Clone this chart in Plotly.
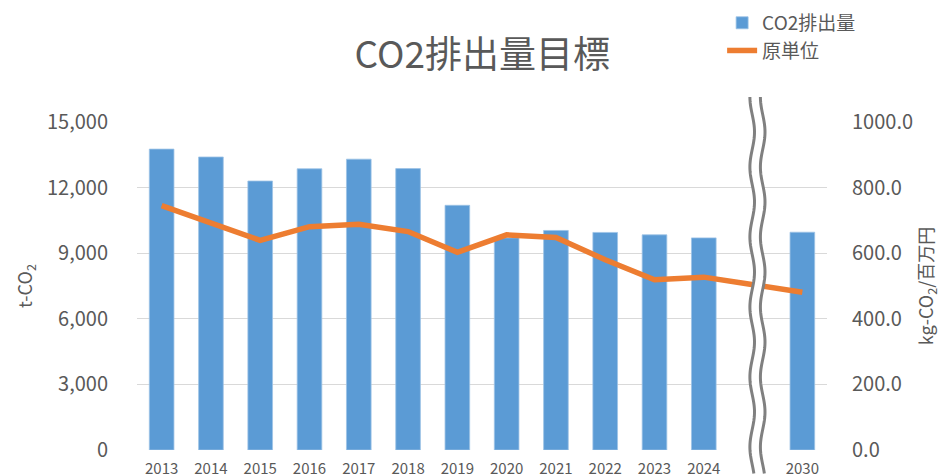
import numpy as np
import plotly.graph_objects as go

# ---- data ----
years = ["2013", "2014", "2015", "2016", "2017", "2018", "2019", "2020",
         "2021", "2022", "2023", "2024", " ", "2030"]
emissions = [13760, 13400, 12300, 12860, 13300, 12870, 11190, 9700,
             10040, 9950, 9840, 9700, None, 9960]
intensity = [745, 692, 639, 681, 688, 666, 603, 656,
             648, 580, 519, 527, None, 481]
left_ticks = [0, 3000, 6000, 9000, 12000, 15000]
right_ticks = [0, 200, 400, 600, 800, 1000]

FONT = "Noto Sans CJK JP"
GREY = "#595959"

fig = go.Figure()
fig.add_trace(go.Bar(x=years, y=emissions, name="CO2排出量",
                     marker=dict(color="#5B9BD5", line=dict(color="#9DC3E6", width=0.8)),
                     yaxis="y"))
fig.add_trace(go.Scatter(x=years, y=intensity, name="原単位", mode="lines",
                         line=dict(color="#ED7D31", width=5.5),
                         connectgaps=True, yaxis="y2"))

# ---- axis-break decoration (wavy double line) ----
L, R, T, B = 137, 115, 122, 26
W, H = 942 - L - R, 476 - T - B
def px2paper(px, py):
    return (px - L) / W, (T + H - py) / H
ys = np.arange(97, 474.1, 1.5)
xl = 752.2 + 2.3 * np.sin(2 * np.pi * (ys - 167) / 70 - np.pi / 2)
xr = xl + 10.5
def path_of(xs, yv):
    pts = [px2paper(a, b) for a, b in zip(xs, yv)]
    return "M" + "L".join(f"{a:.5f},{b:.5f}" for a, b in pts)
fill_path = path_of(np.concatenate([xl, xr[::-1]]), np.concatenate([ys, ys[::-1]])) + "Z"
shapes = [
    dict(type="path", xref="paper", yref="paper", path=fill_path,
         fillcolor="white", line=dict(width=0), layer="above"),
    dict(type="path", xref="paper", yref="paper", path=path_of(xl, ys),
         line=dict(color="#808080", width=3), layer="above"),
    dict(type="path", xref="paper", yref="paper", path=path_of(xr, ys),
         line=dict(color="#808080", width=3), layer="above"),
]

fig.update_layout(
    width=942, height=476,
    margin=dict(l=L, r=R, t=T, b=B, autoexpand=False),
    paper_bgcolor="white", plot_bgcolor="white",
    font=dict(family=FONT, color=GREY),
    title=dict(text="CO2排出量目標", x=0.512, xref="container", xanchor="center",
               y=1 - 55 / 476, yref="container", yanchor="middle",
               font=dict(size=37, color=GREY, family=FONT)),
    bargap=0.5,
    showlegend=True,
    legend=dict(x=0.848, y=1.36, xanchor="left", yanchor="top",
                font=dict(size=19, color=GREY), bgcolor="rgba(0,0,0,0)",
                tracegroupgap=2),
    xaxis=dict(type="category", showgrid=False, showline=False, zeroline=False,
               automargin=False,
               ticks="outside", ticklen=5, tickcolor="rgba(0,0,0,0)",
               tickfont=dict(size=15, color=GREY)),
    yaxis=dict(range=[0, 15000], tickvals=left_ticks, tickformat=",",
               automargin=False,
               showgrid=True, gridcolor="#D9D9D9", gridwidth=1.3,
               zeroline=False, showline=False,
               ticks="outside", ticklen=24, tickcolor="rgba(0,0,0,0)",
               tickfont=dict(size=20, color=GREY),
               title=dict(text="t-CO<sub>2</sub>", font=dict(size=18, color=GREY), standoff=9)),
    yaxis2=dict(range=[0, 1000], tickvals=right_ticks, tickformat=".1f",
                automargin=False,
                overlaying="y", side="right", showgrid=False, zeroline=False,
                ticks="outside", ticklen=20, tickcolor="rgba(0,0,0,0)",
                tickfont=dict(size=20, color=GREY),
                title=dict(text="kg-CO<sub>2</sub>/百万円", font=dict(size=18, color=GREY), standoff=8)),
    shapes=shapes,
)

fig.write_html("out.html", config={"displayModeBar": False},
               post_script="document.body.style.margin='0';document.body.style.padding='0';")
